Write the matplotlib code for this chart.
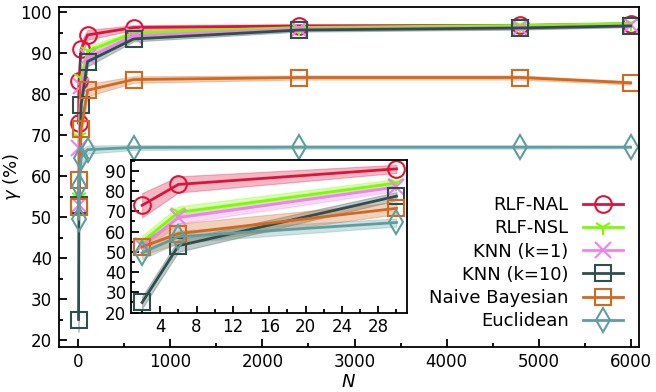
import matplotlib
matplotlib.use("Agg")
import matplotlib.pyplot as plt
import numpy as np
from matplotlib.ticker import MultipleLocator

# sample sizes
n_values = [2, 6, 30, 100, 600, 2400, 4800, 6000]

# mean accuracy (%) per method
rlf_nal = [73.0, 83.3, 91.0, 94.5, 96.3, 96.7, 96.8, 97.2]
rlf_nsl = [55.0, 69.5, 84.0, 90.5, 95.0, 96.3, 96.8, 97.3]
knn_1 = [53.0, 67.0, 82.0, 89.0, 94.3, 96.0, 96.3, 96.8]
knn_10 = [25.0, 53.0, 77.5, 88.0, 93.5, 95.7, 96.2, 96.7]
naive_bayes = [52.5, 59.0, 71.5, 81.0, 83.6, 84.1, 84.1, 82.8]
euclidean = [49.5, 57.5, 64.5, 66.5, 67.0, 67.1, 67.1, 67.1]

# spread (%) per method
rlf_nal_std = [6.0, 4.0, 2.0, 1.2, 0.6, 0.4, 0.4, 0.3]
rlf_nsl_std = [3.0, 3.0, 2.0, 1.2, 0.6, 0.4, 0.4, 0.3]
knn_1_std = [3.0, 3.0, 2.0, 1.2, 0.6, 0.4, 0.4, 0.3]
knn_10_std = [3.0, 3.0, 2.0, 1.2, 0.6, 0.4, 0.4, 0.3]
naive_bayes_std = [4.0, 5.0, 3.0, 1.5, 0.8, 0.5, 0.5, 0.4]
euclidean_std = [3.0, 3.0, 2.0, 1.0, 0.6, 0.4, 0.4, 0.3]

labels = ["RLF-NAL", "RLF-NSL", "KNN (k=1)", "KNN (k=10)",
          "Naive Bayesian", "Euclidean"]
means = [rlf_nal, rlf_nsl, knn_1, knn_10, naive_bayes, euclidean]
stds = [rlf_nal_std, rlf_nsl_std, knn_1_std, knn_10_std,
        naive_bayes_std, euclidean_std]
colors = ["#DC143C", "#7CFC00", "#EE82EE", "#2F4F4F", "#D2691E", "#5F9EA0"]
markers = ["o", "1", "x", "s", "s", "d"]

plt.rcParams["font.family"] = "DejaVu Sans"
plt.rcParams["font.size"] = 12

fig = plt.figure(figsize=(6.56, 3.92), dpi=100)
ax = fig.add_axes([0.090, 0.116, 0.884, 0.867])
inset = fig.add_axes([0.200, 0.2015, 0.421, 0.390])

n_arr = np.array(n_values)
handles = []
for lab, m, s, c, mk in zip(labels, means, stds, colors, markers):
    m = np.array(m)
    s = np.array(s)
    for a, sel in ((ax, slice(None)), (inset, slice(0, 3))):
        a.fill_between(n_arr[sel], (m - s)[sel], (m + s)[sel],
                       color=c, alpha=0.3, lw=0.8)
        h, = a.plot(n_arr[sel], m[sel], color=c, lw=2, marker=mk,
                    markersize=12, markerfacecolor="none",
                    markeredgecolor=c, markeredgewidth=1.5, label=lab)
        if a is ax:
            handles.append(h)

ax.set_xlim(-210, 6090)
ax.set_ylim(18.4, 101.4)
ax.xaxis.set_major_locator(MultipleLocator(1000))
ax.xaxis.set_minor_locator(MultipleLocator(500))
ax.yaxis.set_major_locator(MultipleLocator(10))
ax.yaxis.set_minor_locator(MultipleLocator(5))
ax.set_xlabel("$N$", fontsize=13, labelpad=1)
ax.set_ylabel(r"$\gamma$ (%)", fontsize=13, labelpad=-2)

inset.set_xlim(0.8, 31.2)
inset.set_ylim(19.8, 95.3)
inset.xaxis.set_major_locator(MultipleLocator(4))
inset.xaxis.set_minor_locator(MultipleLocator(2))
inset.yaxis.set_major_locator(MultipleLocator(10))
inset.yaxis.set_minor_locator(MultipleLocator(5))

for a in (ax, inset):
    a.tick_params(which="both", direction="in", top=False, right=False,
                  width=1.3)
    a.tick_params(which="major", length=6)
    a.tick_params(which="minor", length=3)
    for sp in a.spines.values():
        sp.set_linewidth(1.3)
ax.tick_params(which="major", pad=5)
inset.xaxis.set_tick_params(which="major", length=5)

ax.legend(handles=handles, loc="lower right", bbox_to_anchor=(1.0, 0.0),
          frameon=False, markerfirst=False, fontsize=13,
          handlelength=2.2, labelspacing=0.29)

fig.savefig("out.png", dpi=100)
